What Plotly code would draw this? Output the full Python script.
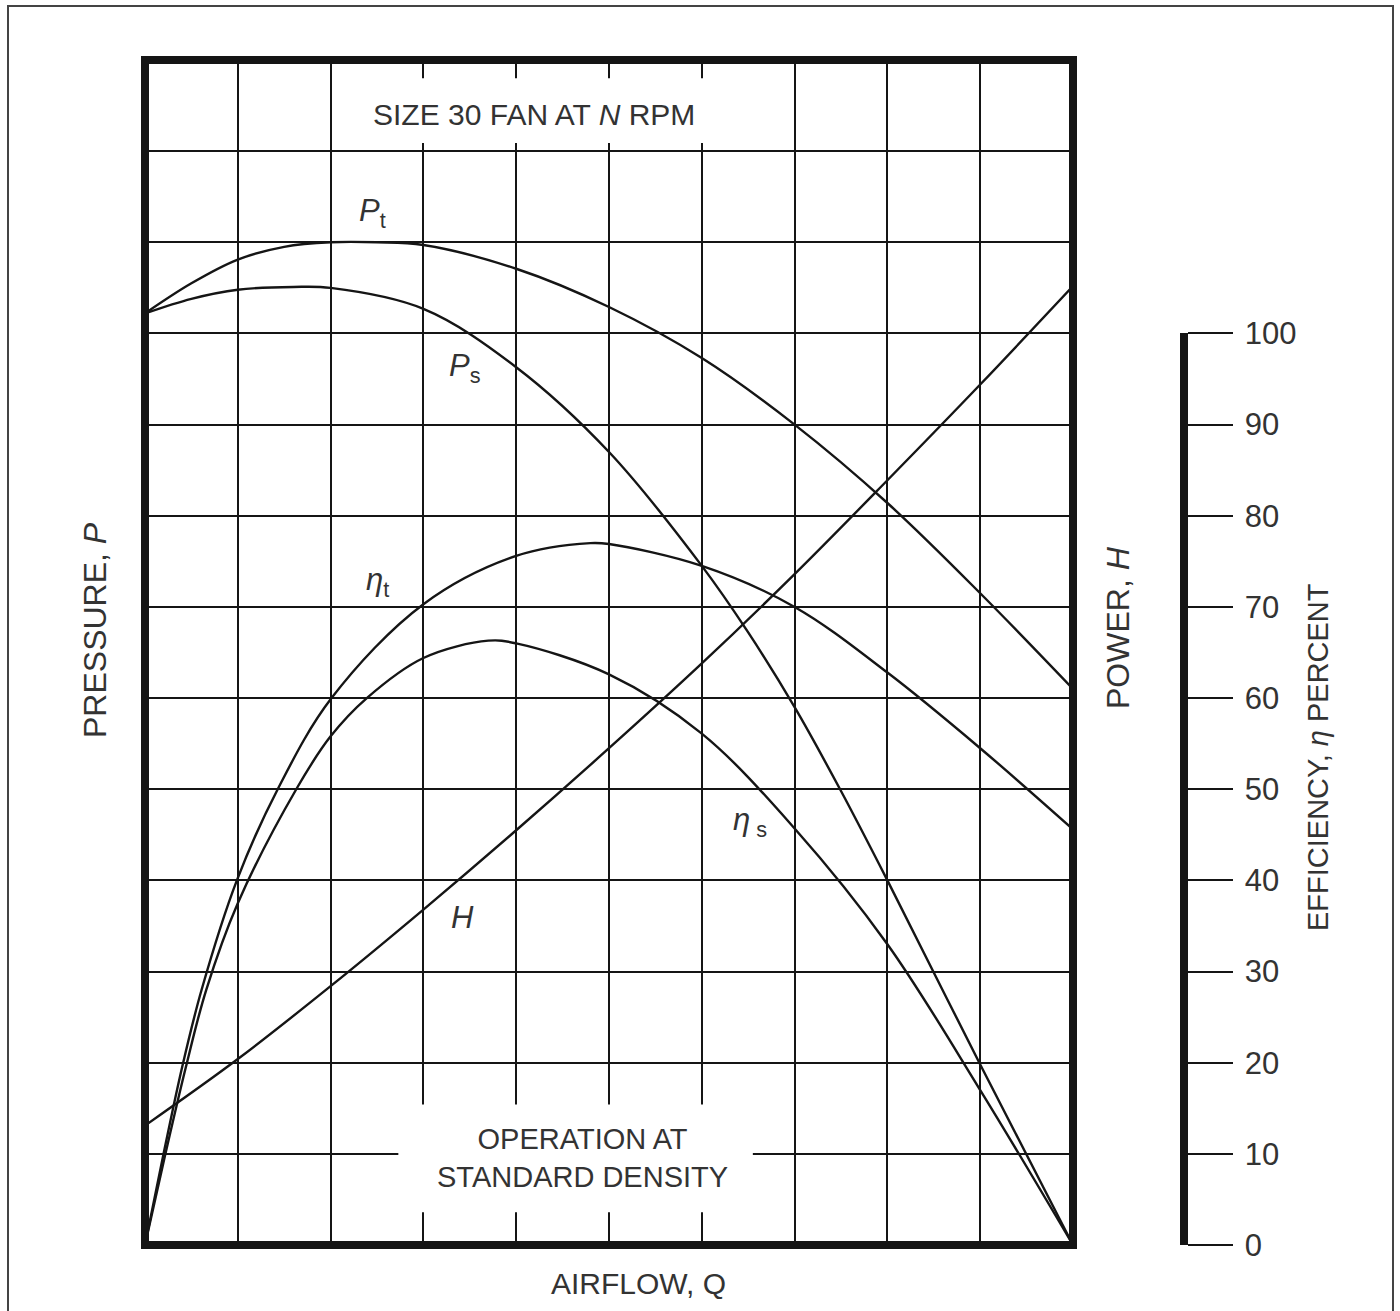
import plotly.graph_objects as go

# ---- data (airflow in grid units 0-10) ----
q_pt = [0, 0.5, 1, 1.5, 2, 2.5, 3, 4, 5, 6, 7, 8, 9, 10]
p_total = [10.22, 10.55, 10.81, 10.95, 11.0, 11.0, 10.97, 10.71, 10.29, 9.73, 9.0, 8.14, 7.15, 6.1]

q_ps = [0, 0.5, 1, 1.6, 2, 3, 4, 5, 6, 6.5, 7, 7.5, 8, 9, 10]
p_static = [10.22, 10.38, 10.48, 10.51, 10.5, 10.27, 9.63, 8.7, 7.45, 6.72, 5.9, 4.98, 4.0, 1.98, 0]

q_h = [0, 1, 2, 3, 4, 5, 6, 7, 8, 9, 10]
power = [1.31, 2.04, 2.84, 3.68, 4.55, 5.45, 6.38, 7.36, 8.39, 9.44, 10.52]

q_et = [0, 0.2, 0.4, 0.61, 0.99, 1.43, 2.01, 3, 4, 4.8, 5, 6, 7, 8, 9, 10]
eta_total = [0, 10, 19.5, 28, 40, 50, 60, 70.3, 75.6, 77.0, 76.9, 74.5, 70, 62.8, 54.5, 45.6]

q_es = [0, 0.22, 0.44, 0.66, 1, 1.63, 2, 2.39, 3, 3.7, 4, 5, 6, 7, 8, 9, 10]
eta_static = [0, 10, 19.5, 28, 37.5, 50, 55.8, 60, 64.4, 66.3, 66.0, 62.6, 56.1, 45.7, 33.0, 17.0, 0]

eff_ticks = [0, 10, 20, 30, 40, 50, 60, 70, 80, 90, 100]

FONT = "Liberation Sans, Arial, Helvetica, sans-serif"
TXT = "#333333"
LINE = "#151515"

fig = go.Figure()
common = dict(mode="lines", line=dict(color=LINE, width=2.4, shape="spline", smoothing=1.0),
              showlegend=False, hoverinfo="skip")
fig.add_trace(go.Scatter(x=q_pt, y=p_total, name="Pt", **common))
fig.add_trace(go.Scatter(x=q_ps, y=p_static, name="Ps", **common))
fig.add_trace(go.Scatter(x=q_h, y=power, name="H", **common))
fig.add_trace(go.Scatter(x=q_et, y=eta_total, name="eta_t", yaxis="y2", **common))
fig.add_trace(go.Scatter(x=q_es, y=eta_static, name="eta_s", yaxis="y2", **common))

W, H = 1400, 1311
ML, MR, MT, MB = 145, 150, 60, 66
pw = W - ML - MR
ph = H - MT - MB
xdom = 928 / pw

fig.update_layout(
    width=W, height=H,
    margin=dict(l=ML, r=MR, t=MT, b=MB, pad=0),
    paper_bgcolor="white", plot_bgcolor="rgba(0,0,0,0)",
    font=dict(family=FONT, color=TXT, size=28),
    xaxis=dict(domain=[0, xdom], range=[0, 10], dtick=1, tick0=0, showgrid=True,
               gridcolor=LINE, gridwidth=2, showticklabels=False, ticks="",
               zeroline=False, showline=False, fixedrange=True),
    yaxis=dict(domain=[0, 1], range=[0, 13], dtick=1, tick0=0, showgrid=True,
               gridcolor=LINE, gridwidth=2, showticklabels=False, ticks="",
               zeroline=False, showline=False, fixedrange=True),
    yaxis2=dict(domain=[0, 10 / 13], range=[0, 100], anchor="free",
                position=(1183.5 - ML) / pw, side="right",
                showgrid=False, zeroline=False, showline=True, linewidth=8,
                linecolor=LINE, ticks="outside", ticklen=45, tickwidth=2,
                tickcolor=LINE, tickvals=eff_ticks, ticklabelstandoff=6,
                tickfont=dict(size=31, color=TXT, family=FONT), fixedrange=True),
)

# plot frame
fig.add_shape(type="rect", xref="x domain", yref="y domain", x0=0, x1=1, y0=0, y1=1,
              line=dict(color=LINE, width=8), layer="above")
# white boxes behind the in-plot notes
fig.add_shape(type="rect", xref="x", yref="y", x0=2.32, x1=6.09, y0=12.09, y1=12.80,
              line=dict(width=0), fillcolor="white", layer="above")
fig.add_shape(type="rect", xref="x", yref="y", x0=2.73, x1=6.55, y0=0.36, y1=1.54,
              line=dict(width=0), fillcolor="white", layer="above")
# outer image border
fig.add_shape(type="rect", xref="paper", yref="paper",
              x0=(8 - ML) / pw, x1=(1393 - ML) / pw,
              y0=(H - MB - 1330) / ph, y1=(H - MB - 6) / ph,
              line=dict(color="#444444", width=2), layer="above")

def px(xp):
    return (xp - ML) / pw

def py(yp):
    return (H - MB - yp) / ph

C = dict(showarrow=False, xanchor="center", yanchor="middle")
ann = []
ann.append(dict(text="SIZE 30 FAN AT <i>N</i> RPM", x=4.19, y=12.40, xref="x", yref="y",
                font=dict(size=30), **C))
ann.append(dict(text="OPERATION AT<br>STANDARD DENSITY", x=4.71, y=0.955, xref="x", yref="y",
                font=dict(size=29), **C))
ann.append(dict(text="<i>P</i><sub>t</sub>", x=2.45, y=11.32, xref="x", yref="y",
                font=dict(size=31), **C))
ann.append(dict(text="<i>P</i><sub>s</sub>", x=3.45, y=9.62, xref="x", yref="y",
                font=dict(size=31), **C))
ann.append(dict(text="<i>η</i><sub>t</sub>", x=2.51, y=7.27, xref="x", yref="y",
                font=dict(size=31), **C))
ann.append(dict(text="<i>η</i><sub> s</sub>", x=6.52, y=4.64, xref="x", yref="y",
                font=dict(size=31), **C))
ann.append(dict(text="<i>H</i>", x=3.42, y=3.59, xref="x", yref="y",
                font=dict(size=31), **C))
ann.append(dict(text="PRESSURE, <i>P</i>", x=px(95), y=py(630), xref="paper", yref="paper",
                textangle=-90, font=dict(size=32), **C))
ann.append(dict(text="POWER, <i>H</i>", x=px(1118), y=py(628), xref="paper", yref="paper",
                textangle=-90, font=dict(size=32), **C))
ann.append(dict(text="EFFICIENCY, <i>η</i> PERCENT", x=px(1318), y=py(757), xref="paper", yref="paper",
                textangle=-90, font=dict(size=29), **C))
ann.append(dict(text="AIRFLOW, Q", x=px(638), y=py(1283), xref="paper", yref="paper",
                font=dict(size=30), **C))
fig.update_layout(annotations=ann)

fig.write_html("out.html", config={"displayModeBar": False})
